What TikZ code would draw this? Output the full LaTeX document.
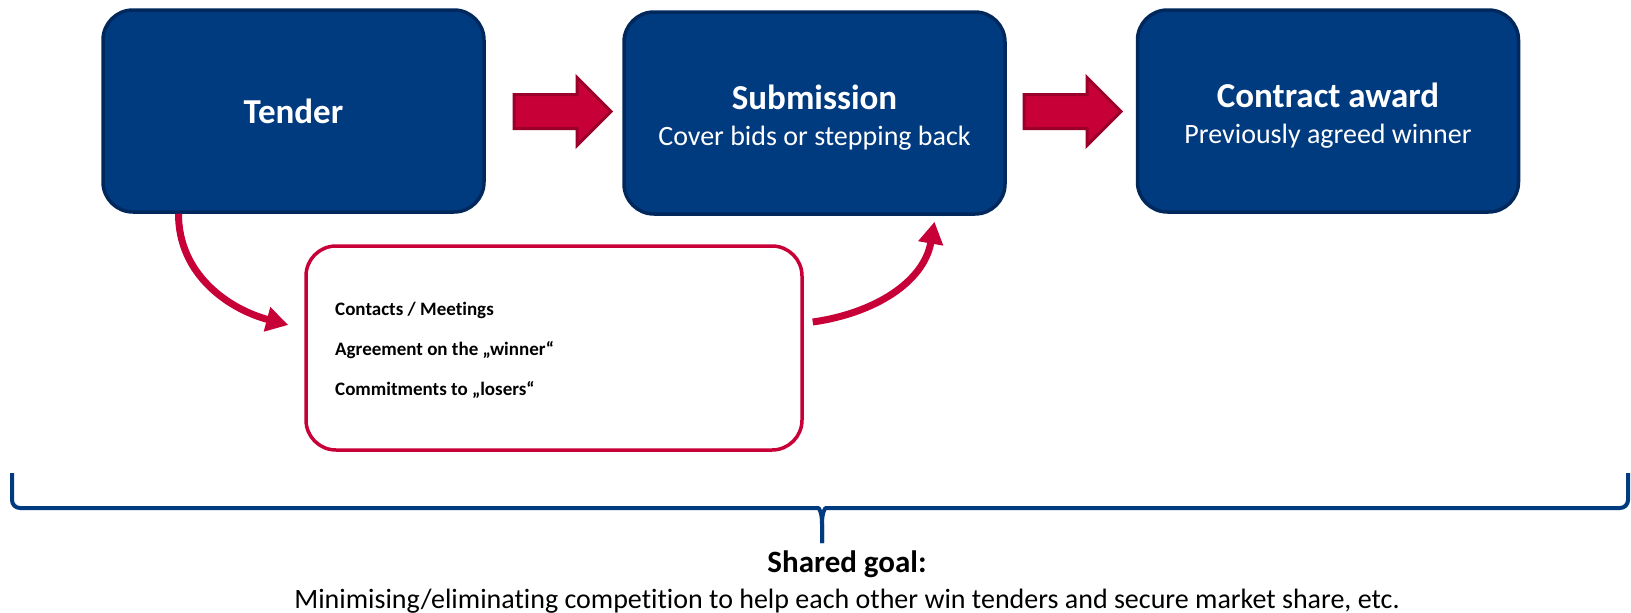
\documentclass[tikz,border=0pt]{standalone}
\usepackage{fontspec}
\setmainfont{Carlito}[Ligatures=NoCommon]
\usetikzlibrary{arrows.meta,shapes.arrows,calc,positioning}
\definecolor{stageblue}{RGB}{0,59,128}
\definecolor{stageedge}{RGB}{0,40,92}
\definecolor{cartelred}{RGB}{200,0,56}
\definecolor{cartelrededge}{RGB}{155,0,42}
\tikzset{
  stagebox/.style={draw=stageedge,fill=stageblue,line width=3.5pt,rounded corners=30pt,
    minimum width=381pt,minimum height=202pt,text=white,inner sep=0pt,
    font=\fontsize{35}{37}\selectfont\bfseries},
  stagetitle/.style={anchor=base,text=white,inner sep=0pt,font=\fontsize{35}{37}\selectfont\bfseries},
  stagenote/.style={anchor=base,text=white,inner sep=0pt,font=\fontsize{28}{30}\selectfont},
  dealbox/.style={draw=cartelred,fill=white,line width=3.5pt,rounded corners=30pt,
    minimum width=496pt,minimum height=204pt},
  flowarrow/.style={single arrow,draw=cartelrededge,fill=cartelred,line width=3pt,
    minimum height=97pt,minimum width=0pt,text height=15.5pt,text depth=15.5pt,
    single arrow head extend=17pt,inner sep=0pt},
  sidearrow/.style={draw=cartelred,line width=7pt,-{Triangle[length=22pt,width=24pt]}},
  dealitem/.style={anchor=base west,inner sep=0pt,font=\fontsize{19}{22}\selectfont\bfseries},
  goalbrace/.style={draw=stageblue,line width=4pt}
}
\begin{document}
\begin{tikzpicture}[x=1pt,y=-1pt]
\useasboundingbox (0,0) rectangle (1631,613);
% process stages
\node[stagebox] (tender) at (293.5,111) {Tender};
\node[stagebox] (submission) at (814.5,113) {};
\node[stagebox] (award) at (1328,111) {};
\node[stagetitle] (submissiontitle) at ([yshift=4pt]submission.center) {Submission};
\node[stagenote] (submissionnote) at ([yshift=-32pt]submission.center) {Cover bids or stepping back};
\node[stagetitle] (awardtitle) at ([yshift=4pt]award.center) {Contract award};
\node[stagenote] (awardnote) at ([yshift=-32pt]award.center) {Previously agreed winner};
\node[flowarrow] (step1) at (554,111.5) {};
\node[flowarrow] (step2) at (1064,111.5) {};
% hidden agreement
\node[dealbox] (deal) at (554,348) {};
\node[dealitem] (contacts) at (335,315) {Contacts / Meetings};
\node[dealitem] (winner) at (335,355) {Agreement on the „winner“};
\node[dealitem] (losers) at (335,395) {Commitments to „losers“};
\draw[sidearrow] ([xshift=-115pt]tender.south) to[out=-90,in=165] ([xshift=-16pt,yshift=23pt]deal.west);
\draw[sidearrow] ([xshift=9pt,yshift=26pt]deal.east) to[out=8,in=-100] ([xshift=120pt,yshift=-6pt]submission.south);
% shared goal
\coordinate (braceL) at (12,473);
\coordinate (braceR) at (1628,473);
\coordinate (braceTip) at (822,543);
\draw[goalbrace] (braceL) [rounded corners=8pt] |- (810,508) [sharp corners] .. controls (819,508) and (822,512) .. (822,524) -- (braceTip);
\draw[goalbrace] (braceR) [rounded corners=8pt] |- (834,508) [sharp corners] .. controls (825,508) and (822,512) .. (822,524) -- (braceTip);
\node[anchor=base,font=\fontsize{31}{33}\selectfont\bfseries] (goal) at (847,572) {Shared goal:};
\node[anchor=base,font=\fontsize{28}{30}\selectfont] (goaltext) at (847,608) {Minimising/eliminating competition to help each other win tenders and secure market share, etc.};
\end{tikzpicture}
\end{document}
